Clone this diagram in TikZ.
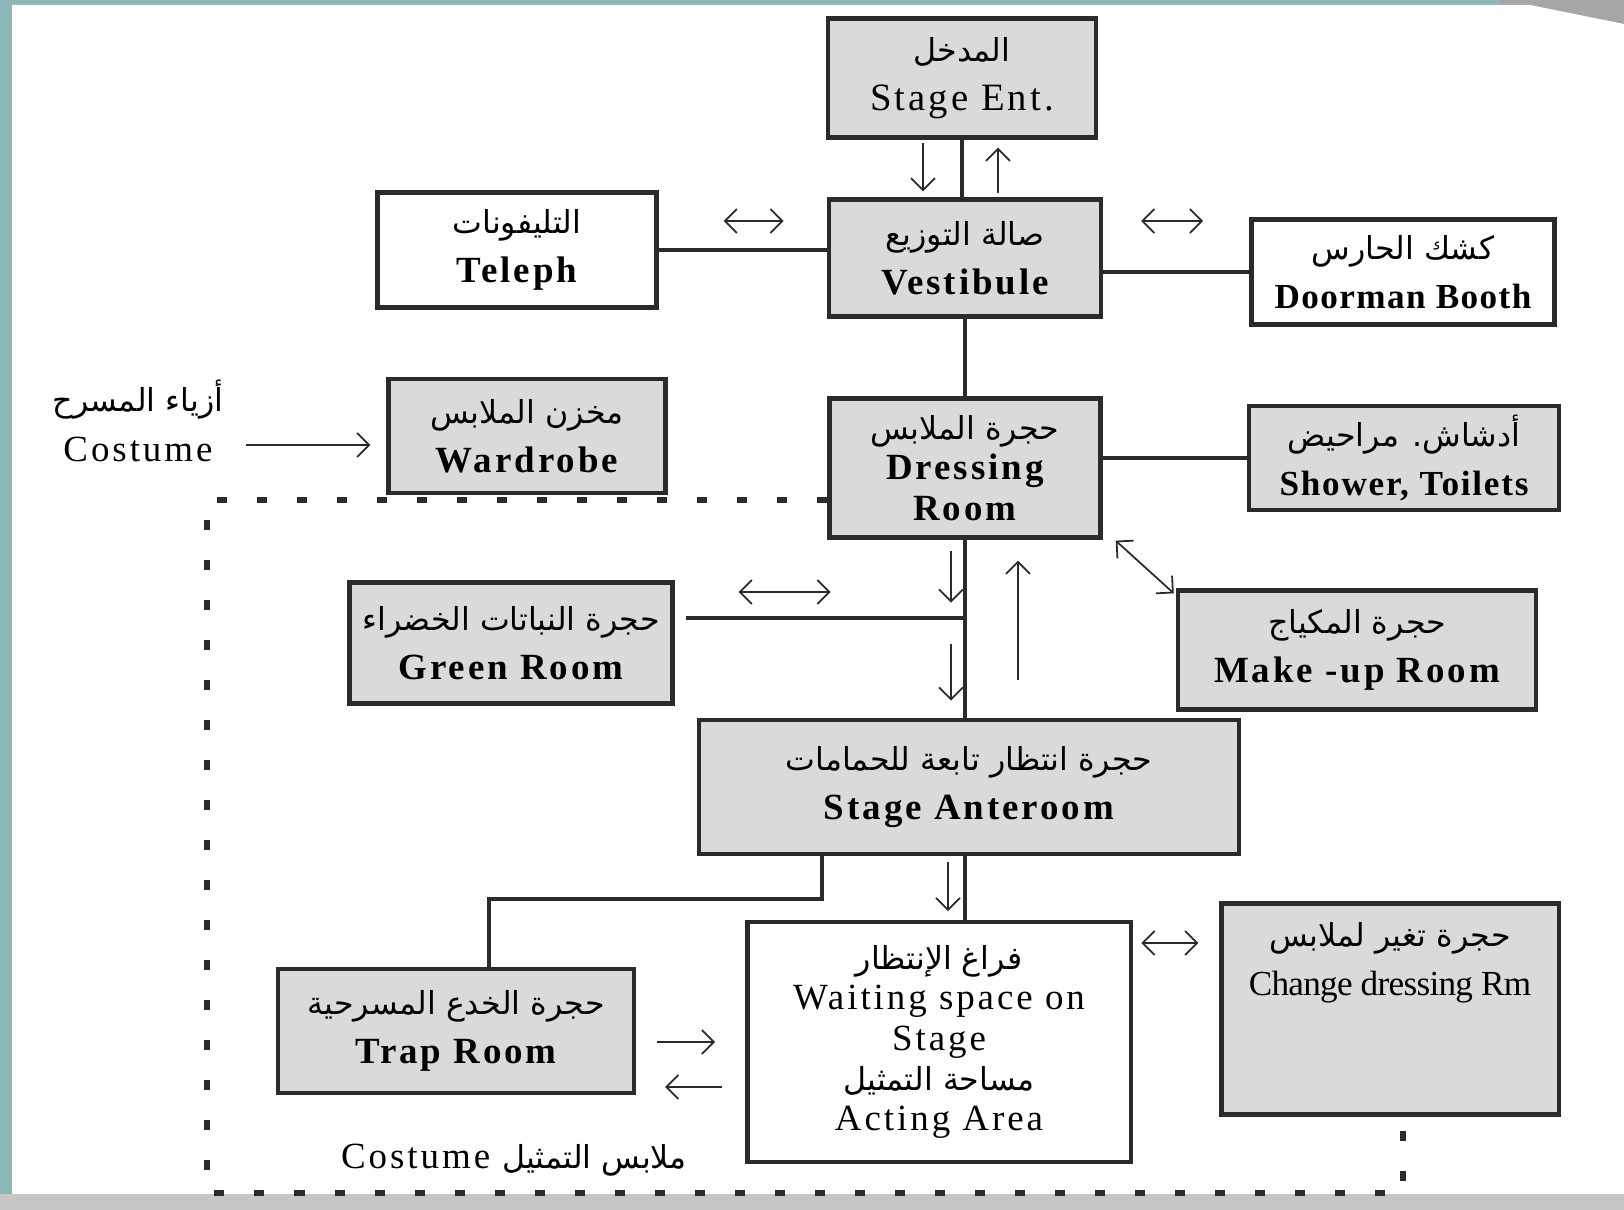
\documentclass[tikz,border=0pt]{standalone}
\usepackage{fontspec}
\setmainfont[LetterSpace=8]{Liberation Serif}
\newfontfamily\arabicfont[Script=Arabic]{DejaVu Sans}
\TeXXeTstate=1
\usetikzlibrary{positioning, arrows.meta, calc}
\definecolor{ink}{HTML}{2B2B2B}
\definecolor{roomgray}{HTML}{DADADA}
\definecolor{scanbg}{HTML}{8DB7B7}
\newcommand\artext[1]{{\arabicfont\mdseries\fontsize{9}{14}\selectfont\beginR #1\endR}}
\tikzset{
  room/.style      = {rectangle, draw=ink, line width=1.2pt, fill=roomgray, inner sep=0pt,
                      align=center, font=\fontsize{10.5}{14}\selectfont},
  plainroom/.style = {room, fill=white},
  heavy/.style     = {font=\fontsize{10.5}{14}\selectfont\bfseries},
  conn/.style      = {draw=ink, line width=1.1pt},
  flow/.style      = {draw=ink, line width=0.5pt, -{Straight Barb[length=1.2mm, width=2.4mm]}},
  flowboth/.style  = {draw=ink, line width=0.5pt,
                      {Straight Barb[length=1.2mm, width=2.4mm]}-{Straight Barb[length=1.2mm, width=2.4mm]}},
  bound/.style     = {draw=ink, line width=1.5pt, dash pattern=on 1mm off 3mm}
}

\begin{document}
\begin{tikzpicture}[x=0.01cm, y=-0.01cm]
  % scanned page
  \fill[scanbg] (0,0) rectangle (1624,1210);
  \useasboundingbox (0,0) rectangle (1624,1210);
  \fill[gray!70] (1500,0) rectangle (1624,40);
  \fill[white] (12,5) -- (1530,5) -- (1624,24) -- (1624,1194) -- (12,1194) -- cycle;
  \fill[gray!45] (0,1194) rectangle (1624,1210);

  % rooms
  \node[room, minimum width=2.68cm, minimum height=1.19cm, font=\fontsize{11}{14}\selectfont] (entr) at (962, 78) {\artext{المدخل}\\ Stage Ent.};
  \node[room, heavy, minimum width=2.72cm, minimum height=1.17cm] (vest) at (965, 258) {\artext{صالة التوزيع}\\ Vestibule};
  \node[plainroom, heavy, minimum width=2.79cm, minimum height=1.15cm] (tel) at (517, 250) {\artext{التليفونات}\\ Teleph};
  \node[plainroom, minimum width=3.03cm, minimum height=1.05cm, font=\fontsize{10}{14}\selectfont\bfseries\addfontfeature{LetterSpace=4}] (door) at (1403, 272) {\artext{كشك الحارس}\\ Doorman Booth};
  \node[room, heavy, minimum width=2.77cm, minimum height=1.14cm] (ward) at (527, 436) {\artext{مخزن الملابس}\\ Wardrobe};
  \node[room, minimum width=2.71cm, minimum height=1.39cm, font=\fontsize{10.5}{11.5}\selectfont\bfseries] (dress) at (965, 468) {\artext{حجرة الملابس}\\ Dressing\\ Room};
  \node[room, minimum width=3.10cm, minimum height=1.04cm, font=\fontsize{10}{14}\selectfont\bfseries\addfontfeature{LetterSpace=5}] (shower) at (1404, 458) {\artext{أدشاش. مراحيض}\\ Shower, Toilets};
  \node[room, heavy, minimum width=3.23cm, minimum height=1.21cm] (green) at (511, 643) {\artext{حجرة النباتات الخضراء}\\ Green Room};
  \node[room, heavy, minimum width=3.58cm, minimum height=1.19cm] (makeup) at (1357, 650) {\artext{حجرة المكياج}\\ Make -up Room};
  \node[room, heavy, minimum width=5.39cm, minimum height=1.34cm] (ante) at (969, 787) {\artext{حجرة انتظار تابعة للحمامات}\\ Stage Anteroom};
  \node[plainroom, minimum width=3.83cm, minimum height=2.40cm, font=\fontsize{10.5}{11.5}\selectfont] (wait) at (939, 1042)
    {\artext{فراغ الإنتظار}\\ Waiting space on\\ Stage\\ \artext{مساحة التمثيل}\\ Acting Area};
  \node[room, minimum width=3.37cm, minimum height=2.11cm] (chg) at (1390, 1009) {};
  \node[align=center, anchor=north, inner sep=0pt, font=\fontsize{10}{14}\selectfont\addfontfeature{LetterSpace=-2}]
    (chgtxt) at ($(chg.north)+(0,20)$) {\artext{حجرة تغير لملابس}\\ Change dressing Rm};
  \node[room, heavy, minimum width=3.56cm, minimum height=1.24cm] (trap) at (456, 1031) {\artext{حجرة الخدع المسرحية}\\ Trap Room};

  % free labels
  \node[align=center, font=\fontsize{10.5}{14}\selectfont] (costin) at (138, 421) {\artext{أزياء المسرح}\\ Costume};
  \node[font=\fontsize{10.5}{14}\selectfont] (costout) at (514, 1160) {Costume \artext{ملابس التمثيل}};

  % connections
  \coordinate (gj) at ($(dress.south)+(0,78)$);
  \draw[conn] (entr.south) -- (entr.south |- vest.north);
  \draw[conn] (tel.east) -- (tel.east -| vest.west);
  \draw[conn] (door.west -| vest.east) -- (door.west);
  \draw[conn] (vest.south) -- (vest.south |- dress.north);
  \draw[conn] ($(ward.east)+(0,17)$) -- ($(ward.east)+(0,17)$ -| dress.west);
  \draw[conn] (shower.west -| dress.east) -- (shower.west);
  \draw[conn] (dress.south) -- (dress.south |- ante.north);
  \draw[conn] (gj -| green.east) ++(11,0) -- (gj);
  \draw[conn] (ante.south -| gj) -- (wait.north -| gj);
  \draw[conn] ($(ante.south west)+(125,0)$) -- ++(0,43) -| ($(trap.north)+(33,0)$);
  \draw[conn] ($(chg.west)+(0,-43)$) -- ($(chg.west)+(0,-43)$ -| wait.east);
  \draw[conn] ($(trap.east)+(0,33)$) -- ($(trap.east)+(0,33)$ -| wait.west);

  % movement arrows
  \draw[flow] ($(entr.south)+(-39,3)$) -- ($(vest.north)+(-42,-6)$);
  \draw[flow] ($(vest.north)+(33,-4)$) -- ($(entr.south)+(36,8)$);
  \draw[flowboth] ($(tel.east)+(65,-29)$) -- ($(tel.east)+(125,-29)$);
  \draw[flowboth] ($(vest.east)+(38,-37)$) -- ($(vest.east)+(100,-37)$);
  \draw[flow] ($(ward.west)+(-140,9)$) -- ($(ward.west)+(-16,9)$);
  \draw[flowboth] ($(dress.south east)+(13,1)$) -- ($(makeup.north west)+(-2,5)$);
  \draw[flowboth] ($(green.east)+(64,-51)$) -- ($(green.east)+(156,-51)$);
  \draw[flow] ($(dress.south)+(-14,11)$) -- ($(dress.south)+(-14,63)$);
  \draw[flow] ($(dress.south)+(-14,104)$) -- ($(dress.south)+(-14,161)$);
  \draw[flow] ($(dress.south)+(53,140)$) -- ($(dress.south)+(53,21)$);
  \draw[flow] ($(ante.south)+(-21,6)$) -- ($(ante.south)+(-21,55)$);
  \draw[flowboth] ($(chg.west)+(-78,-66)$) -- ($(chg.west)+(-21,-66)$);
  \draw[flow] ($(trap.east)+(21,11)$) -- ($(trap.east)+(79,11)$);
  \draw[flow] ($(trap.east)+(86,56)$) -- ($(trap.east)+(29,56)$);

  % costume zone
  \coordinate (bnw) at (207,500);
  \coordinate (bse) at (1403,1193);
  \draw[bound] (bnw -| dress.west) -- (bnw) |- (bse) -- ++(0,-63);
\end{tikzpicture}
\end{document}
